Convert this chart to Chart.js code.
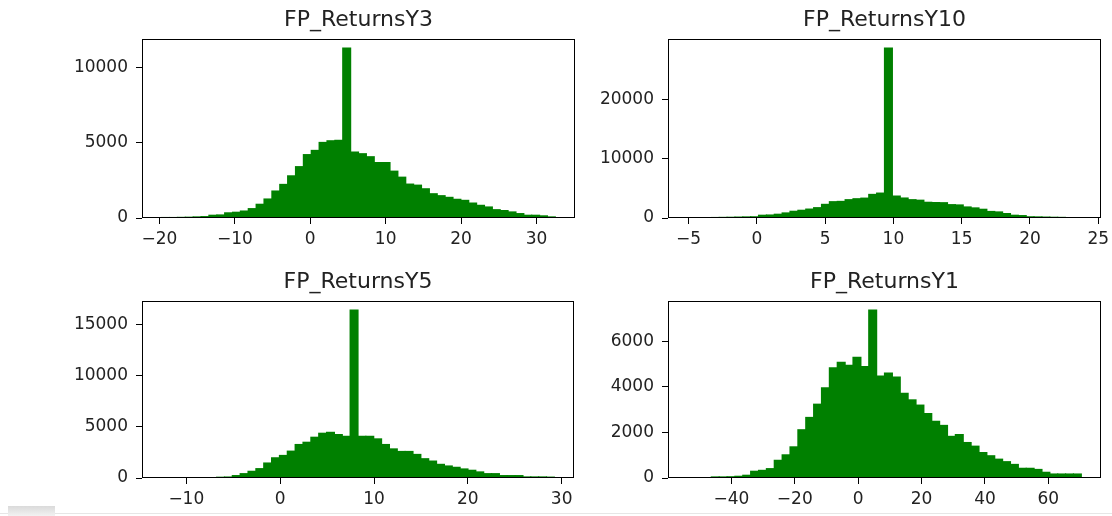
<!DOCTYPE html>
<html>
<head>
<meta charset="utf-8">
<title>FP returns histograms</title>
<script src="https://cdn.jsdelivr.net/npm/chart.js@4.4.1/dist/chart.umd.min.js"></script>
<style>
  html, body { margin: 0; padding: 0; background: #fff; overflow: hidden; }
  body { width: 1112px; height: 516px; position: relative; }
  canvas { position: absolute; }
  .strip { position: absolute; left: 0; top: 513px; width: 1112px; height: 1px; background: #e6e6e6; }
  .tab { position: absolute; left: 8px; top: 506px; width: 47px; height: 10px; background: linear-gradient(#dadada, #f2f2f2); }
</style>
</head>
<body>
<canvas id="h-y3"  width="525" height="250" style="left:70px;top:0px"></canvas>
<canvas id="h-y10" width="525" height="250" style="left:596px;top:0px"></canvas>
<canvas id="h-y5"  width="524" height="248" style="left:70px;top:262px"></canvas>
<canvas id="h-y1"  width="525" height="248" style="left:596px;top:262px"></canvas>
<div class="strip"></div>
<div class="tab"></div>
<script>
'use strict';

// ── Data (50 bins per histogram) ─────────────────────────────────────────────
const titles = ['FP_ReturnsY3', 'FP_ReturnsY10', 'FP_ReturnsY5', 'FP_ReturnsY1'];

const countsY3 = [70, 70, 80, 90, 110, 130, 220, 240, 380, 420,
  500, 660, 950, 1300, 1830, 2270, 2840, 3450, 4250, 4530,
  5060, 5170, 5200, 11330, 4420, 4310, 4110, 3720, 3720, 3150,
  2750, 2290, 2220, 1980, 1650, 1520, 1410, 1280, 1210, 1030,
  880, 770, 590, 530, 440, 330, 220, 220, 180, 110];

const countsY10 = [150, 150, 160, 180, 200, 220, 250, 280, 300, 560,
  600, 730, 950, 1230, 1400, 1600, 1840, 2400, 2850, 2900,
  3190, 3350, 3450, 4080, 4300, 28790, 3800, 3470, 3190, 3100,
  2750, 2700, 2680, 2350, 2300, 1960, 1800, 1570, 1200, 1120,
  840, 560, 500, 300, 280, 250, 220, 200, 60, 40];

const countsY5 = [2, 1, 2, 3, 5, 8, 20, 130, 150, 290,
  480, 710, 970, 1520, 2030, 2260, 2680, 3330, 3550, 4040,
  4430, 4520, 4300, 4130, 16480, 4130, 4130, 3880, 3330, 2900,
  2650, 2650, 2360, 1940, 1710, 1390, 1230, 1100, 940, 810,
  650, 480, 480, 290, 290, 290, 160, 160, 160, 140];

const countsY1 = [3, 2, 5, 72, 72, 80, 100, 145, 320, 360,
  435, 800, 1040, 1390, 2140, 2680, 3260, 3980, 4850, 5100,
  4970, 5320, 4910, 7390, 4490, 4620, 4450, 3740, 3450, 3220,
  2850, 2510, 2330, 1850, 1930, 1580, 1420, 1140, 1000, 850,
  740, 620, 450, 450, 400, 275, 200, 200, 200, 200];

// min / max of each sample (outer bin edges)
const binRangeY3  = [-19.7, 32.5];
const binRangeY10 = [-5.06, 23.76];
const binRangeY5  = [-12.63, 29.22];
const binRangeY1  = [-53.8, 70.4];

const xTicksY3  = [-20, -10, 0, 10, 20, 30];
const xTicksY10 = [-5, 0, 5, 10, 15, 20, 25];
const xTicksY5  = [-10, 0, 10, 20, 30];
const xTicksY1  = [-40, -20, 0, 20, 40, 60];

const yTicksY3  = [0, 5000, 10000];
const yTicksY10 = [0, 10000, 20000];
const yTicksY5  = [0, 5000, 10000, 15000];
const yTicksY1  = [0, 2000, 4000, 6000];

// ── Style ────────────────────────────────────────────────────────────────────
const FONT      = 'DejaVu Sans';
const TEXT      = '#222';
const BAR_GREEN = '#008000';

// black box round the plot area, like matplotlib spines
const framePlugin = {
  id: 'frame',
  afterDatasetsDraw(chart) {
    const { ctx, chartArea: a } = chart;
    ctx.save();
    ctx.strokeStyle = '#000';
    ctx.lineWidth = 1;
    const l = Math.round(a.left) + 0.5, t = Math.round(a.top) + 0.5;
    const r = Math.round(a.right) - 0.5, b = Math.round(a.bottom) - 0.5;
    ctx.strokeRect(l, t, r - l, b - t);
    ctx.restore();
  }
};

const minusSign = v => String(v).replace('-', '\u2212');

function makeHist(id, title, counts, binRange, xTicks, yTicks) {
  const [lo, hi] = binRange;
  const step = (hi - lo) / counts.length;
  const points = counts.map((c, i) => ({ x: lo + (i + 0.5) * step, y: c }));
  const margin = (hi - lo) * 0.05;   // matplotlib default axis margin
  const yMax = Math.max(...counts) * 1.05;

  return new Chart(document.getElementById(id), {
    type: 'bar',
    data: {
      datasets: [{
        data: points,
        backgroundColor: BAR_GREEN,
        borderWidth: 0,
        barPercentage: 1.15,      // slight overlap hides anti-alias seams
        categoryPercentage: 1,
      }],
    },
    options: {
      responsive: false,
      animation: false,
      devicePixelRatio: 1,
      layout: { padding: { left: 0, right: 20, top: 0, bottom: 0 } },
      plugins: {
        legend: { display: false },
        tooltip: { enabled: false },
        title: {
          display: true,
          fullSize: false,        // centre over the plot area, not the canvas
          text: title,
          color: TEXT,
          font: { family: FONT, size: 22, weight: 'normal', lineHeight: 1.2 },
          padding: { top: 7, bottom: 5.6 },
        },
      },
      scales: {
        x: {
          type: 'linear',
          min: lo - margin,
          max: hi + margin,
          offset: false,
          afterBuildTicks: s => { s.ticks = xTicks.map(v => ({ value: v })); },
          afterFit: s => { s.height = 32; s.paddingLeft = 0; s.paddingRight = 0; },
          ticks: {
            color: TEXT, padding: 5, maxRotation: 0, autoSkip: false,
            font: { family: FONT, size: 17 },
            callback: v => minusSign(v),
          },
          grid: { display: true, offset: false, drawOnChartArea: false, drawTicks: true, tickLength: 6, color: '#000' },
          border: { display: false },
        },
        y: {
          min: 0,
          max: yMax,
          afterBuildTicks: s => { s.ticks = yTicks.map(v => ({ value: v })); },
          afterFit: s => { s.width = 72; s.paddingTop = 0; s.paddingBottom = 0; },
          ticks: {
            color: TEXT, padding: 8, autoSkip: false,
            font: { family: FONT, size: 17 },
            callback: v => String(v),
          },
          grid: { display: true, drawOnChartArea: false, drawTicks: true, tickLength: 6, color: '#000' },
          border: { display: false },
        },
      },
    },
    plugins: [framePlugin],
  });
}

makeHist('h-y3',  titles[0], countsY3,  binRangeY3,  xTicksY3,  yTicksY3);
makeHist('h-y10', titles[1], countsY10, binRangeY10, xTicksY10, yTicksY10);
makeHist('h-y5',  titles[2], countsY5,  binRangeY5,  xTicksY5,  yTicksY5);
makeHist('h-y1',  titles[3], countsY1,  binRangeY1,  xTicksY1,  yTicksY1);
</script>
</body>
</html>
